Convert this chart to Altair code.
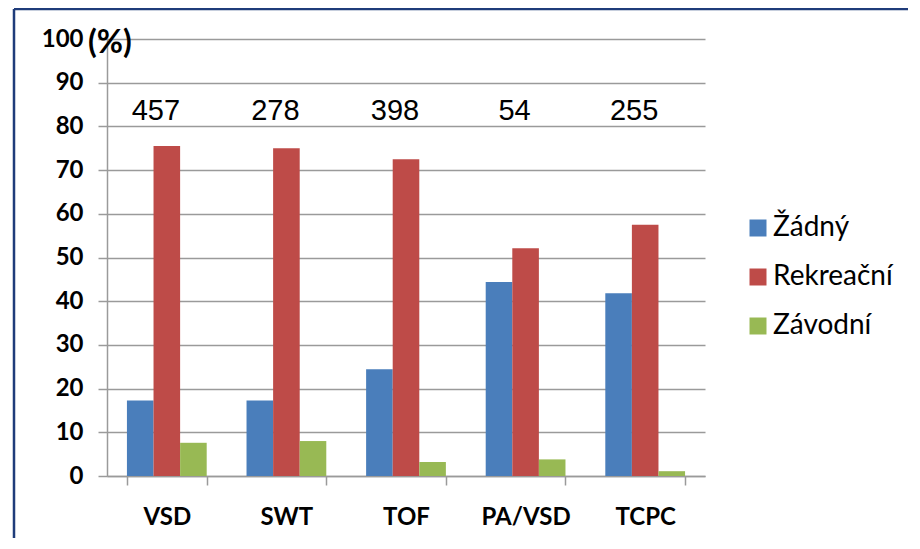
import altair as alt
import pandas as pd

categories = ["VSD", "SWT", "TOF", "PA/VSD", "TCPC"]
series_names = ["Žádný", "Rekreační", "Závodní"]
zadny = [17.3, 17.3, 24.4, 44.4, 41.8]
rekreacni = [75.5, 75.0, 72.5, 52.1, 57.5]
zavodni = [7.6, 8.0, 3.2, 3.8, 1.1]
counts = ["457", "278", "398", "54", "255"]
colors = ["#4a7ebb", "#be4b48", "#98b954"]

rows = []
for i, c in enumerate(categories):
    for s, vals in zip(series_names, [zadny, rekreacni, zavodni]):
        rows.append({"cat": c, "series": s, "value": vals[i]})
df = pd.DataFrame(rows)
df_counts = pd.DataFrame({"cat": categories, "label": counts})

GRAY = "#9a9a9a"

x_enc = alt.X(
    "cat:N", sort=categories,
    scale=alt.Scale(paddingInner=0.333, paddingOuter=0.1667),
    axis=alt.Axis(title=None, labelFont="Lato", labelFontWeight="bold", labelFontSize=24,
                  labelColor="black", labelPadding=20, tickBand="extent", tickSize=9,
                  tickColor=GRAY, tickWidth=1.5, domainColor=GRAY, domainWidth=1.5,
                  grid=False, labelAngle=0),
)
y_enc = alt.Y(
    "value:Q", scale=alt.Scale(domain=[0, 100], nice=False),
    axis=alt.Axis(title=None, values=list(range(0, 101, 10)), labelFont="Lato",
                  labelFontWeight="bold", labelFontSize=24, labelColor="black",
                  labelPadding=15, tickSize=9, tickColor=GRAY, tickWidth=1.5,
                  gridColor=GRAY, gridWidth=1.5, domainColor=GRAY, domainWidth=1.5),
)

bars = alt.Chart(df).mark_bar().encode(
    x=x_enc,
    xOffset=alt.XOffset("series:N", sort=series_names,
                        scale=alt.Scale(domain=series_names, paddingInner=0, paddingOuter=0)),
    y=y_enc,
    color=alt.Color("series:N", sort=series_names,
                    scale=alt.Scale(domain=series_names, range=colors),
                    legend=alt.Legend(title=None, orient="none", legendX=637, legendY=175,
                                      symbolType="square", symbolSize=289, symbolStrokeWidth=0,
                                      symbolOpacity=1, labelFont="Lato", labelFontSize=28,
                                      labelColor="black", rowPadding=21, labelOffset=1,
                                      padding=0)),
)

count_text = alt.Chart(df_counts).mark_text(
    font="Liberation Sans", fontSize=29, baseline="alphabetic", dx=-11, color="black"
).encode(
    x=alt.X("cat:N", sort=categories),
    y=alt.datum(81.5),
    text="label:N",
)

pct = alt.Chart(pd.DataFrame({"t": ["(%)"]})).mark_text(
    font="Lato", fontWeight="bold", fontSize=32, align="left", baseline="middle",
    dy=4, color="black"
).encode(x=alt.value(-19), y=alt.datum(100), text="t:N")

frame_left = alt.Chart(pd.DataFrame({"a": [0]})).mark_rule(
    color="#1f3c7a", strokeWidth=2.5
).encode(x=alt.value(-93), y=alt.value(-30), y2=alt.value(499))
frame_top = alt.Chart(pd.DataFrame({"a": [0]})).mark_rule(
    color="#1f3c7a", strokeWidth=2.5
).encode(x=alt.value(-93), x2=alt.value(801), y=alt.value(-30))

chart = alt.layer(bars, count_text, pct, frame_left, frame_top).properties(
    width=598, height=437,
    padding={"left": 99, "top": 31, "right": 203, "bottom": 62},
    autosize=alt.AutoSizeParams(type="none"),
).configure_view(stroke=None)

chart.save("out.html", embed_options={"renderer": "svg", "actions": False})
